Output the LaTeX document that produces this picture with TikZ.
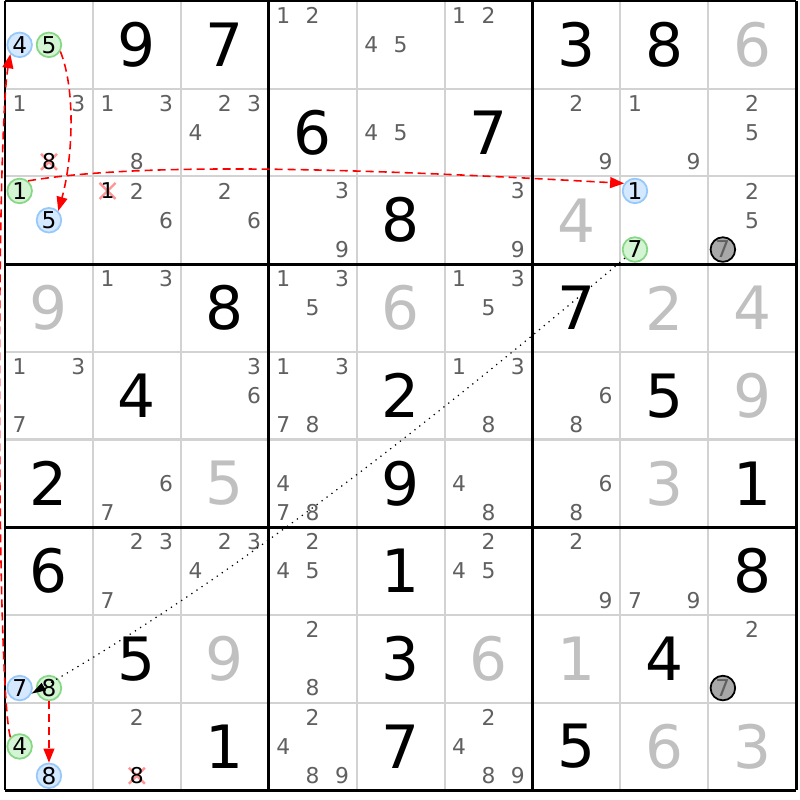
\documentclass[tikz,border=0pt]{standalone}
\usepackage{fontspec}
\setmainfont{DejaVu Sans}
\usetikzlibrary{arrows.meta,calc}
\definecolor{candgray}{RGB}{96,96,96}
\definecolor{solvedgray}{RGB}{192,192,192}
\definecolor{thingrid}{RGB}{210,210,210}
\definecolor{bluefill}{RGB}{212,232,255}
\definecolor{blueline}{RGB}{150,200,250}
\definecolor{greenfill}{RGB}{212,245,212}
\definecolor{greenline}{RGB}{135,215,135}
\definecolor{crosspink}{RGB}{255,150,150}
\definecolor{linkred}{RGB}{255,0,0}
\tikzset{
  given/.style={font=\fontsize{17}{17}\selectfont, inner sep=0pt},
  solved/.style={given, text=solvedgray},
  cand/.style={font=\fontsize{6.2}{6.2}\selectfont, text=candgray, inner sep=0pt},
  bluecand/.style={circle, draw=blueline, fill=bluefill, line width=0.5pt, minimum size=7pt, inner sep=0pt, font=\fontsize{6.6}{6.6}\selectfont},
  greencand/.style={bluecand, draw=greenline, fill=greenfill},
  graycand/.style={bluecand, draw=black, fill={rgb,255:red,168;green,168;blue,168}, text=candgray},
  redlink/.style={draw=linkred, line width=0.45pt, dash pattern=on 2.3pt off 1.4pt, -{Triangle[length=4pt,width=3.1pt]}},
  dotlink/.style={draw=black, line width=0.35pt, dash pattern=on 0.35pt off 1.4pt, -{Triangle[length=4pt,width=2.4pt]}},
}
\begin{document}
\begin{tikzpicture}[x=0.1mm,y=-0.1mm]
\useasboundingbox[fill=white] (0,0) rectangle (800,800);
% cell centres
\foreach \r in {1,...,9}{\foreach \c in {1,...,9}{
  \coordinate (c\r\c) at ({5+87.9*(\c-0.5)},{1+87.7*(\r-0.5)});}}
% grid
\foreach \i in {1,2,4,5,7,8}{
  \draw[thingrid, line width=0.57pt] ({5+87.9*\i},1) -- ({5+87.9*\i},790);
  \draw[thingrid, line width=0.57pt] (5,{1+87.7*\i}) -- (796,{1+87.7*\i});}
\foreach \i in {0,3,6,9}{
  \draw[black, line width=0.85pt] ({5+87.9*\i},1) -- ({5+87.9*\i},790);
  \draw[black, line width=0.85pt] (5,{1+87.7*\i}) -- (796,{1+87.7*\i});}
% givens and solved cells
\foreach \r/\c/\d in {1/2/9,1/3/7,1/7/3,1/8/8,2/4/6,2/6/7,3/5/8,4/3/8,4/7/7,5/2/4,5/5/2,5/8/5,6/1/2,6/5/9,6/9/1,7/1/6,7/5/1,7/9/8,8/2/5,8/5/3,8/8/4,9/3/1,9/5/7,9/7/5}
  \node[given] (g\r\c) at (c\r\c) {\d};
\foreach \r/\c/\d in {1/9/6,3/7/4,4/1/9,4/5/6,4/8/2,4/9/4,5/9/9,6/3/5,6/8/3,8/3/9,8/6/6,8/7/1,9/8/6,9/9/3}
  \node[solved] (g\r\c) at (c\r\c) {\d};
% candidates
\foreach \r/\c/\ds in {1/4/{1,2},1/5/{4,5},1/6/{1,2},
    2/1/{1,3},2/2/{1,3,8},2/3/{2,3,4},2/5/{4,5},2/7/{2,9},2/8/{1,9},2/9/{2,5},
    3/2/{2,6},3/3/{2,6},3/4/{3,9},3/6/{3,9},3/9/{2,5},
    4/2/{1,3},4/4/{1,3,5},4/6/{1,3,5},
    5/1/{1,3,7},5/3/{3,6},5/4/{1,3,7,8},5/6/{1,3,8},5/7/{6,8},
    6/2/{6,7},6/4/{4,7,8},6/6/{4,8},6/7/{6,8},
    7/2/{2,3,7},7/3/{2,3,4},7/4/{2,4,5},7/6/{2,4,5},7/7/{2,9},7/8/{7,9},
    8/4/{2,8},8/9/{2},
    9/2/{2},9/4/{2,4,8,9},9/6/{2,4,8,9}}{
  \foreach \d in \ds {
    \pgfmathtruncatemacro\kx{mod(\d-1,3)-1}
    \pgfmathtruncatemacro\ky{div(\d-1,3)-1}
    \node[cand] (k\r\c\d) at ($(c\r\c)+(29.3*\kx,29.3*\ky)$) {\d};
  }
}
% eliminated candidates
\foreach \r/\c/\d in {2/1/8,3/2/1,9/2/8}{
  \pgfmathtruncatemacro\kx{mod(\d-1,3)-1}
  \pgfmathtruncatemacro\ky{div(\d-1,3)-1}
  \coordinate (x\r\c) at ($(c\r\c)+(29.3*\kx,29.3*\ky)$);
  \draw[crosspink, line width=0.7pt] ($(x\r\c)+(-8,-8)$) -- ($(x\r\c)+(8,8)$);
  \draw[crosspink, line width=0.7pt] ($(x\r\c)+(-8,8)$) -- ($(x\r\c)+(8,-8)$);
  \node[cand, text=black] (k\r\c\d) at (x\r\c) {\d};
}
% chain candidates
\node[bluecand] (c11n4) at ($(c11)+(-29.3,0)$) {4};
\node[greencand] (c11n5) at (c11) {5};
\node[greencand] (c31n1) at ($(c31)+(-29.3,-29.3)$) {1};
\node[bluecand] (c31n5) at (c31) {5};
\node[bluecand] (c38n1) at ($(c38)+(-29.3,-29.3)$) {1};
\node[greencand] (c38n7) at ($(c38)+(-29.3,29.3)$) {7};
\node[graycand] (c39n7) at ($(c39)+(-29.3,29.3)$) {7};
\node[bluecand] (c81n7) at ($(c81)+(-29.3,29.3)$) {7};
\node[greencand] (c81n8) at ($(c81)+(0,29.3)$) {8};
\node[graycand] (c89n7) at ($(c89)+(-29.3,29.3)$) {7};
\node[greencand] (c91n4) at ($(c91)+(-29.3,0)$) {4};
\node[bluecand] (c91n8) at ($(c91)+(0,29.3)$) {8};
% links
\draw[redlink] (c11n5.-30) .. controls +(16,40) and +(14,-50) .. (c31n5.45);
\draw[redlink] (c31n1.50) .. controls +(120,-20) and +(-250,-14) .. (c38n1.145);
\draw[redlink] (c91n4.135) .. controls +(-14,-50) and +(-14,80) .. (c11n4.-135);
\draw[redlink] (c81n8) -- (c91n8);
\draw[dotlink] (c38n7) .. controls (440,415) and (230,580) .. (c81n7.-25);
\end{tikzpicture}
\end{document}
